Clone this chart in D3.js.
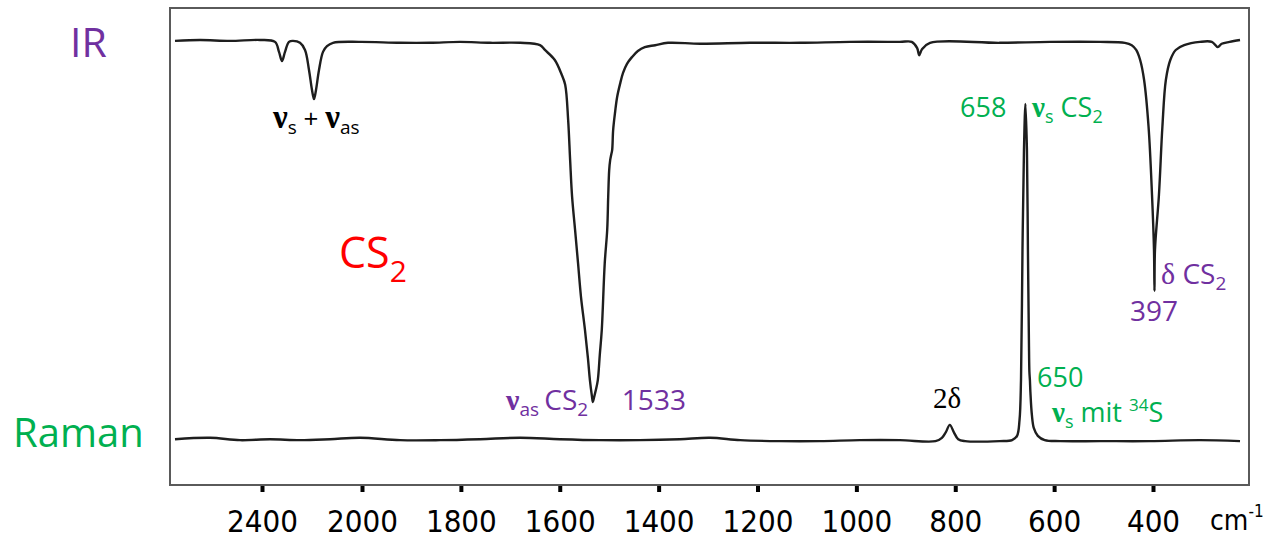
<!DOCTYPE html>
<html>
<head>
<meta charset="utf-8">
<script src="https://cdn.jsdelivr.net/npm/d3@7"></script>
<style>
  html, body { margin: 0; padding: 0; background: #fff; }
  svg { display: block; }
  .lbl { font-family: "Open Sans", sans-serif; }
  .greek { font-family: "Liberation Serif", "DejaVu Serif", serif; }
  .tick text { font-family: "Liberation Sans Narrow", "DejaVu Sans Condensed", sans-serif; }
</style>
</head>
<body>
<svg id="chart" width="1277" height="539"></svg>
<script>
// IR transmission trace of liquid CS2 (wavenumber in cm^-1, transmission in %)
const irWavenumber = [2748, 2648, 2528, 2408, 2348, 2332, 2320, 2308, 2292, 2276, 2248, 2228, 2212, 2200, 2192, 2184, 2172, 2156, 2140, 2116, 2008,
  1923, 1862, 1802, 1741, 1680, 1640,
  1630, 1610, 1596, 1589, 1583, 1579, 1575, 1569, 1563, 1557, 1549, 1543, 1539, 1535, 1533,
  1531, 1527, 1523, 1519, 1515, 1509, 1504, 1502, 1500, 1498, 1496, 1494, 1492, 1488, 1484, 1478, 1472, 1464, 1454, 1442, 1428, 1407, 1381,
  1316, 1215, 1114, 1013, 912, 888, 877, 873, 867, 851, 710, 608, 507, 457,
  443, 434, 426, 418, 409, 402, 398, 397, 396, 388, 381, 374, 365, 354, 337,
  305, 281, 269, 261, 245, 224];
const irValue = [93.1, 93.3, 93.1, 93.3, 92.9, 90.8, 88.9, 90.8, 92.9, 93.1, 92.7, 91.2, 87.0, 82.8, 80.9, 82.8, 87.0, 90.8, 92.0, 92.7, 92.9,
  92.7, 92.7, 92.9, 92.7, 92.7, 92.2,
  91.2, 89.1, 86.0, 83.9, 76.5, 68.1, 60.4, 53.5, 46.5, 39.4, 32.5, 26.6, 22.0, 18.7, 17.4,
  18.2, 19.9, 22.0, 27.3, 32.5, 46.5, 53.5, 60.4, 66.0, 68.1, 69.2, 70.2, 74.4, 78.2, 81.3, 84.1, 86.4, 88.3, 89.7, 91.0, 91.8, 92.2, 92.7,
  92.5, 92.7, 92.7, 92.9, 92.9, 92.9, 91.6, 90.1, 91.4, 92.7, 92.7, 92.9, 92.9, 92.7,
  92.2, 91.2, 89.1, 84.9, 75.1, 60.8, 49.3, 40.7, 49.3, 60.8, 75.1, 84.9, 89.1, 91.2, 92.2,
  92.9, 92.9, 91.8, 92.5, 92.9, 93.3];

// Raman scattering trace (wavenumber shift in cm^-1, relative intensity on the same scale)
const ramanWavenumber = [2748, 2608, 2488, 2368, 2248, 2128, 2008, 1923, 1842, 1761, 1680, 1600, 1519, 1438, 1357, 1296, 1235, 1155, 1074, 993, 912,
  840, 827, 819, 811, 803, 794, 780, 710,
  685, 675, 670, 667, 664, 661, 658, 655, 653, 651, 650, 649, 648, 645, 641, 633, 619, 588, 507, 406, 305, 224];
const ramanValue = [9.6, 9.9, 9.4, 9.6, 9.4, 9.6, 9.9, 9.4, 9.4, 9.6, 9.9, 9.6, 9.4, 9.4, 9.6, 9.9, 9.4, 9.2, 9.2, 9.4, 9.4,
  9.2, 9.9, 11.1, 12.6, 11.1, 9.6, 9.2, 9.2,
  9.4, 10.3, 13.6, 22.0, 49.3, 70.2, 79.9, 70.2, 49.3, 30.4, 23.7, 22.0, 19.5, 14.7, 11.9, 10.3, 9.4, 9.2, 9.2, 9.2, 9.4, 9.2];

// Axis ticks (the spectrometer chart paper changes scale at 2000 cm^-1)
const tickValues = [2400, 2000, 1800, 1600, 1400, 1200, 1000, 800, 600, 400];

const svg = d3.select("#chart");
const frame = { left: 170, top: 8, right: 1249, bottom: 485 };

const x = d3.scaleLinear()
  .domain([2400, 2000, 400])
  .range([262, 362, 1153]);
const y = d3.scaleLinear()
  .domain([0, 100])
  .range([frame.bottom, frame.top]);

const purple = "#7030A0", green = "#00B050", red = "#FF0000";

// plot frame
svg.append("rect")
  .attr("x", frame.left).attr("y", frame.top)
  .attr("width", frame.right - frame.left).attr("height", frame.bottom - frame.top)
  .attr("fill", "none").attr("stroke", "#5a5a5a").attr("stroke-width", 2);

// traces
const line = d3.line()
  .x(d => x(d[0]))
  .y(d => y(d[1]))
  .curve(d3.curveCatmullRom.alpha(0.5));

const traces = [
  d3.zip(irWavenumber, irValue),
  d3.zip(ramanWavenumber, ramanValue)
];
svg.append("g").selectAll("path")
  .data(traces)
  .join("path")
  .attr("d", line)
  .attr("fill", "none")
  .attr("stroke", "#1e1e1e")
  .attr("stroke-width", 2.4)
  .attr("stroke-linejoin", "round");

// bottom axis with dot-like ticks
const axis = svg.append("g")
  .attr("transform", `translate(0,${frame.bottom + 1})`)
  .call(d3.axisBottom(x).tickValues(tickValues).tickSize(6).tickPadding(18).tickFormat(d3.format("d")));
axis.select(".domain").remove();
axis.selectAll(".tick line").attr("stroke", "#000").attr("stroke-width", 4);
axis.selectAll(".tick text").attr("fill", "#000").style("font-size", "31px");

// unit label
const unit = svg.append("text")
  .attr("x", 1210).attr("y", 530)
  .style("font-family", "'Liberation Sans Narrow', 'DejaVu Sans Condensed', sans-serif")
  .style("font-size", "28px").attr("fill", "#000");
unit.append("tspan").text("cm");
unit.append("tspan").attr("dy", -13).style("font-size", "17px").text("-1");

// helper for rich labels: parts = [text, {greek, sub, sup, size}]
function richLabel(xp, yp, color, baseSize, parts) {
  const t = svg.append("text").attr("class", "lbl")
    .attr("x", xp).attr("y", yp).attr("fill", color)
    .style("font-size", baseSize + "px");
  let shift = 0;
  parts.forEach(p => {
    const s = t.append("tspan").text(p.t);
    const target = p.sub ? 6 : p.sup ? -11 : 0;
    if (target !== shift) { s.attr("dy", target - shift); shift = target; }
    if (p.greek) s.attr("class", "greek").style("font-weight", p.bold ? "bold" : null);
    if (p.size) s.style("font-size", p.size + "px");
    if (p.dx) s.attr("dx", p.dx);
  });
  return t;
}

// panel names
richLabel(70, 57, purple, 41, [{ t: "IR" }]);
richLabel(13, 447, green, 40, [{ t: "Raman" }]);

// molecule
const mol = svg.append("text").attr("class", "lbl")
  .attr("x", 339).attr("y", 268).attr("fill", red).style("font-size", "43px");
mol.append("tspan").text("CS");
mol.append("tspan").attr("dy", 14).style("font-size", "30px").text("2");

// band assignments
richLabel(273, 128, "#000", 26, [
  { t: "ν", greek: true, bold: true, size: 33 }, { t: "s", sub: true, size: 19 },
  { t: " + ", size: 26 },
  { t: "ν", greek: true, bold: true, size: 33 }, { t: "as", sub: true, size: 19 }
]);
richLabel(506, 410, purple, 28, [
  { t: "ν", greek: true, bold: true, size: 30 }, { t: "as", sub: true, size: 19 },
  { t: " CS", dx: -2 }, { t: "2", sub: true, size: 19 }
]);
richLabel(x(1533) + 29, 410, purple, 28, [{ t: "1533" }]);

richLabel(960, 117, green, 27, [{ t: "658" }]);
richLabel(1032, 117, green, 27, [
  { t: "ν", greek: true, bold: true, size: 29 }, { t: "s", sub: true, size: 18 },
  { t: " CS" }, { t: "2", sub: true, size: 18 }
]);

richLabel(1161, 284, purple, 28, [
  { t: "δ", greek: true, size: 30 }, { t: " CS" }, { t: "2", sub: true, size: 19 }
]);
richLabel(1130, 321, purple, 28, [{ t: "397" }]);

richLabel(933, 408, "#000", 28, [{ t: "2δ", greek: true, size: 29 }]);

richLabel(1037, 387, green, 27, [{ t: "650" }]);
richLabel(1052, 422, green, 27, [
  { t: "ν", greek: true, bold: true, size: 29 }, { t: "s", sub: true, size: 18 },
  { t: " mit " }, { t: "34", sup: true, size: 17 }, { t: "S" }
]);
</script>
</body>
</html>
